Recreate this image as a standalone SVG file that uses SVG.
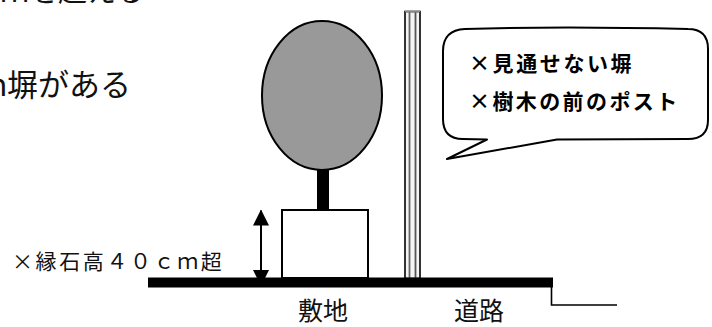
<svg xmlns="http://www.w3.org/2000/svg" width="712" height="327" viewBox="0 0 712 327">
  <defs>
    <style>
      .txt { font-family: "Noto Sans CJK JP", "Noto Sans", sans-serif; fill: #111; }
      .bold { font-weight: bold; fill: #000; }
      .ln { stroke: #000; stroke-width: 2; fill: none; }
    </style>
    <marker id="head" viewBox="0 0 16 16" refX="15" refY="8" markerWidth="16" markerHeight="16" markerUnits="userSpaceOnUse" orient="auto">
      <path d="M0,0 L16,8 L0,16 Z" fill="#000"/>
    </marker>
  </defs>
  <rect width="712" height="327" fill="#fff"/>

  <!-- body text running off the top -->
  <text class="txt" x="0" y="2" font-size="29">ｍを超える</text>
  <text class="txt" x="-24" y="96" font-size="31">ｍ塀がある</text>

  <!-- tree: crown, trunk and planter -->
  <g id="tree">
    <rect x="317" y="168" width="12" height="44" fill="#000"/>
    <ellipse cx="322" cy="95.5" rx="60" ry="74.5" fill="#999" stroke="#000" stroke-width="2"/>
    <rect id="planter" x="282" y="210" width="86" height="68" fill="#fff" stroke="#000" stroke-width="2"/>
  </g>

  <!-- fence post -->
  <g id="fence">
    <rect x="405" y="11.5" width="15" height="267" fill="#f4f4f4" stroke="#000" stroke-width="1.6"/>
    <line x1="409.5" y1="12" x2="409.5" y2="278" stroke="#666" stroke-width="1.8"/>
    <line x1="415.5" y1="12" x2="415.5" y2="278" stroke="#555" stroke-width="1.8"/>
    <line x1="405" y1="11.5" x2="420" y2="11.5" stroke="#888" stroke-width="1.6"/>
  </g>

  <!-- height dimension -->
  <g id="connectors">
    <line class="ln" x1="261" y1="250" x2="261" y2="210.5" marker-end="url(#head)"/>
    <line class="ln" x1="261" y1="240" x2="261" y2="285" marker-end="url(#head)"/>
  </g>

  <!-- ground and road step -->
  <g id="ground">
    <rect x="148" y="277.5" width="405" height="10" fill="#000"/>
    <polyline points="551.5,287 551.5,305 617,305" stroke="#000" stroke-width="1.6" fill="none"/>
  </g>

  <g id="curb-label">
    <text class="txt" x="12" y="269" font-size="21" letter-spacing="2.6">×縁石高４０ｃｍ超</text>
  </g>

  <g id="labels">
    <text class="txt" x="298" y="320" font-size="25">敷地</text>
    <text class="txt" x="454" y="320" font-size="25">道路</text>
  </g>

  <!-- callout -->
  <g id="callout">
    <path d="M465,29 Q560,26 688,29 Q708,29 708,49 L708,120 Q708,139 688,139 L557,139.5 L447,159 L487,139.5 L463,139 Q443,139 443,119 L443,51 Q443,30 465,29 Z" fill="#fff" stroke="#000" stroke-width="2" stroke-linejoin="round"/>
    <text class="txt bold" x="469" y="71" font-size="21" letter-spacing="2.6">×見通せない塀</text>
    <text class="txt bold" x="469" y="109" font-size="21" letter-spacing="2.4">×樹木の前のポスト</text>
  </g>
</svg>
